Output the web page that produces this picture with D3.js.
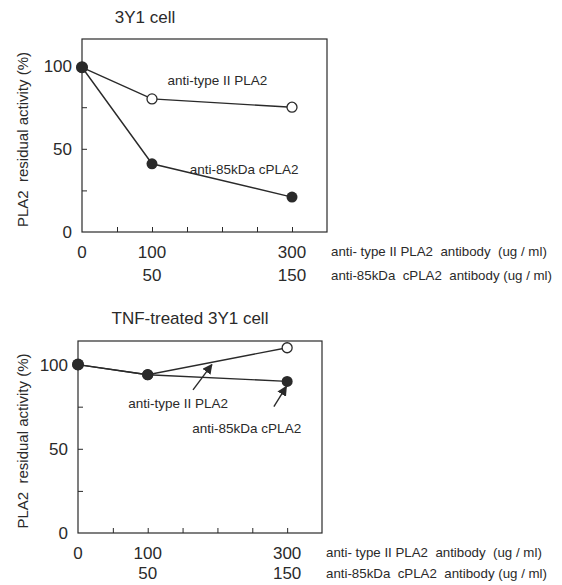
<!DOCTYPE html>
<html>
<head>
<meta charset="utf-8">
<script src="https://cdn.jsdelivr.net/npm/d3@7"></script>
<style>
  body { margin: 0; background: #fff; }
  svg { display: block; font-family: "Liberation Sans", Arial, sans-serif; }
  text { fill: #2a2a2a; white-space: pre; }
</style>
</head>
<body>
<svg id="chart" width="562" height="585"></svg>
<script>
// doses of anti-type II PLA2 antibody (x positions) and matching anti-85kDa doses
const doseTypeII = [0, 100, 300];
const dose85 = [0, 50, 150];
const xTicks = [50, 100, 150, 200, 250, 300];
const yTicks = [25, 50, 75, 100];
const yTickLabels = [0, 50, 100];

// 3Y1 cell
const topTypeII = [99, 80, 75];
const top85 = [99, 41, 21];
// TNF-treated 3Y1 cell
const botTypeII = [100, 94, 110];
const bot85 = [100, 94, 90];

const panels = [
  {
    title: "3Y1 cell", titleX: 145, titleY: 23,
    x0: 82, x1: 327, y0: 232, y1: 39, yMax: 116, row2: 49,
    typeII: topTypeII, k85: top85,
    labels: [
      { text: "anti-type II PLA2", x: 122, y: 91 },
      { text: "anti-85kDa cPLA2", x: 154, y: 38 }
    ],
    arrows: []
  },
  {
    title: "TNF-treated 3Y1 cell", titleX: 190, titleY: 324,
    x0: 78, x1: 322, y0: 533, y1: 341, yMax: 114, row2: 46,
    typeII: botTypeII, k85: bot85,
    labels: [
      { text: "anti-type II PLA2", x: 72, y: 77 },
      { text: "anti-85kDa cPLA2", x: 164, y: 62 }
    ],
    arrows: [
      { from: [165, 85], to: [192, 100] },
      { from: [281, 75], to: [299, 87] }
    ]
  }
];

const svg = d3.select("#chart");
const ink = "#2a2a2a";

svg.append("defs").append("marker")
  .attr("id", "head")
  .attr("viewBox", "0 0 10 10")
  .attr("refX", 9).attr("refY", 5)
  .attr("markerWidth", 10).attr("markerHeight", 10)
  .attr("markerUnits", "userSpaceOnUse")
  .attr("orient", "auto")
  .append("path")
  .attr("d", "M0,0 L10,5 L0,10 z")
  .attr("fill", ink);

panels.forEach(p => {
  const x = d3.scaleLinear().domain([0, 350]).range([p.x0, p.x1]);
  const y = d3.scaleLinear().domain([0, p.yMax]).range([p.y0, p.y1]);
  const g = svg.append("g");

  g.append("text")
    .attr("x", p.titleX).attr("y", p.titleY)
    .attr("text-anchor", "middle")
    .style("font-size", "17px")
    .text(p.title);

  // frame
  g.append("rect")
    .attr("x", p.x0).attr("y", p.y1)
    .attr("width", p.x1 - p.x0).attr("height", p.y0 - p.y1)
    .attr("fill", "none").attr("stroke", ink).attr("stroke-width", 1.2);

  // inward ticks
  const xa = g.append("g")
    .attr("transform", `translate(0,${p.y0})`)
    .call(d3.axisBottom(x).tickValues(xTicks).tickSize(-5).tickFormat(""));
  const ya = g.append("g")
    .attr("transform", `translate(${p.x0},0)`)
    .call(d3.axisLeft(y).tickValues(yTicks).tickSize(-5).tickFormat(""));
  [xa, ya].forEach(a => {
    a.select(".domain").remove();
    a.selectAll("line").attr("stroke", ink);
  });

  // y tick labels
  g.selectAll(".ylab").data(yTickLabels).join("text")
    .attr("x", p.x0 - 10).attr("y", d => y(d))
    .attr("dy", "0.36em")
    .attr("text-anchor", "end")
    .style("font-size", "17px")
    .text(d => d);

  g.append("text")
    .attr("transform", `translate(28,${(p.y0 + p.y1) / 2 + 4}) rotate(-90)`)
    .attr("text-anchor", "middle")
    .style("font-size", "15px")
    .text("PLA2  residual activity (%)");

  // x tick labels, two rows
  g.selectAll(".xlab1").data(doseTypeII).join("text")
    .attr("x", d => x(d)).attr("y", p.y0 + 26)
    .attr("text-anchor", "middle")
    .style("font-size", "17px")
    .text(d => d);
  g.selectAll(".xlab2").data(dose85.slice(1)).join("text")
    .attr("x", (d, i) => x(doseTypeII[i + 1])).attr("y", p.y0 + p.row2)
    .attr("text-anchor", "middle")
    .style("font-size", "17px")
    .text(d => d);

  g.append("text")
    .attr("x", p.x1 + 4).attr("y", p.y0 + 24)
    .style("font-size", "13.3px")
    .text("anti- type II PLA2  antibody  (ug / ml)");
  g.append("text")
    .attr("x", p.x1 + 4).attr("y", p.y0 + p.row2 - 1)
    .style("font-size", "13.3px")
    .text("anti-85kDa  cPLA2  antibody (ug / ml)");

  // lines
  const line = d3.line().x((d, i) => x(doseTypeII[i])).y(d => y(d));
  [p.typeII, p.k85].forEach(s => {
    g.append("path").datum(s)
      .attr("d", line)
      .attr("fill", "none").attr("stroke", ink).attr("stroke-width", 1.4);
  });

  g.selectAll(".open").data(p.typeII).join("circle")
    .attr("cx", (d, i) => x(doseTypeII[i])).attr("cy", d => y(d))
    .attr("r", 5).attr("fill", "#fff").attr("stroke", ink).attr("stroke-width", 1.3);
  g.selectAll(".fill").data(p.k85).join("circle")
    .attr("cx", (d, i) => x(doseTypeII[i])).attr("cy", d => y(d))
    .attr("r", (d, i) => i === 0 ? 6 : 5.5).attr("fill", ink);

  p.labels.forEach(l => {
    g.append("text")
      .attr("x", x(l.x)).attr("y", y(l.y))
      .attr("dy", "0.36em")
      .style("font-size", "13.5px")
      .text(l.text);
  });

  p.arrows.forEach(a => {
    g.append("line")
      .attr("x1", x(a.from[0])).attr("y1", y(a.from[1]))
      .attr("x2", x(a.to[0])).attr("y2", y(a.to[1]))
      .attr("stroke", ink).attr("stroke-width", 1.4)
      .attr("marker-end", "url(#head)");
  });
});
</script>
</body>
</html>
